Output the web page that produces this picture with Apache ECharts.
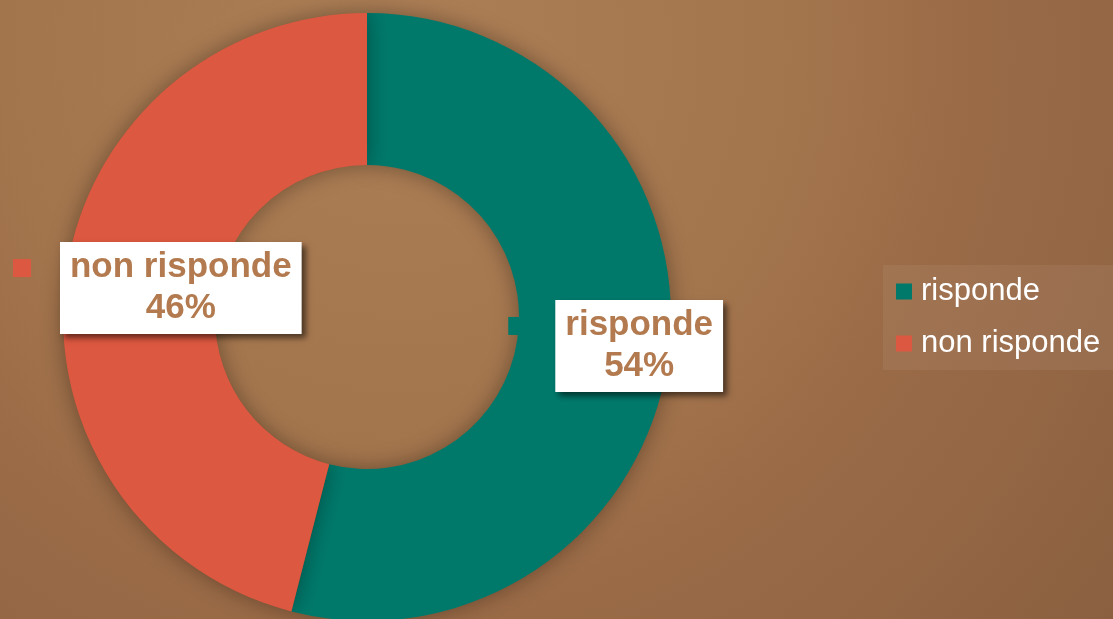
<!DOCTYPE html>
<html>
<head>
<meta charset="utf-8">
<style>
  html, body { margin: 0; padding: 0; }
  #chart { width: 1113px; height: 619px; }
</style>
<script src="https://cdn.jsdelivr.net/npm/echarts@6/dist/echarts.min.js"></script>
</head>
<body>
<div id="chart"></div>
<script>
// Survey answers: share of people who answered vs. did not answer
const categories = ['risponde', 'non risponde'];
const values = [54, 46];

const palette = ['#00796B', '#DC5840'];
const labelFont = '"Liberation Sans", Arial, sans-serif';
const labelSize = 35;
const labelPadX = 10;

// width of a data label box, used to place its colour key just left of it
function boxWidth(lines) {
  const ctx = document.createElement('canvas').getContext('2d');
  ctx.font = 'bold ' + labelSize + 'px ' + labelFont;
  let w = 0;
  lines.forEach(function (t) { w = Math.max(w, ctx.measureText(t).width); });
  return w + labelPadX * 2;
}

const total = values.reduce(function (a, b) { return a + b; }, 0);
const boxShift = 43;

const mainData = categories.map(function (name, i) {
  return { name: name, value: values[i] };
});

const keyData = categories.map(function (name, i) {
  const pct = Math.round(values[i] / total * 100) + '%';
  const w = boxWidth([name, pct]);
  return {
    name: name,
    value: values[i],
    label: {
      offset: [boxShift - w / 2 - 38, -20],
      rich: { m: { width: 18, height: 18, backgroundColor: palette[i] } }
    }
  };
});

const chart = echarts.init(document.getElementById('chart'), null, { renderer: 'canvas' });

chart.setOption({
  animation: false,
  backgroundColor: new echarts.graphic.RadialGradient(0.36, 0.08, 1.47, [
    { offset: 0, color: '#ad7f56' },
    { offset: 0.44, color: '#a3754d' },
    { offset: 0.61, color: '#9b6b47' },
    { offset: 0.77, color: '#956745' },
    { offset: 1, color: '#8a6040' }
  ]),
  color: palette,
  legend: {
    orient: 'vertical',
    left: 883,
    top: 265,
    padding: [11, 20, 11, 13],
    backgroundColor: 'rgba(255,255,255,0.06)',
    itemWidth: 16,
    itemHeight: 16,
    itemGap: 21,
    icon: 'rect',
    data: categories,
    textStyle: {
      color: '#ffffff',
      fontFamily: labelFont,
      fontSize: 31,
      lineHeight: 30,
      padding: [0, 0, 0, 4]
    }
  },
  series: [
    {
      type: 'pie',
      center: [367, 317],
      radius: [152, 304],
      startAngle: 90,
      clockwise: true,
      silent: true,
      itemStyle: {
        shadowBlur: 22,
        shadowColor: 'rgba(0,0,0,0.35)'
      },
      labelLine: { show: false },
      label: {
        show: true,
        position: 'inside',
        offset: [boxShift, 0],
        formatter: '{b}\n{d}%',
        color: '#B27A4E',
        fontFamily: labelFont,
        fontWeight: 'bold',
        fontSize: labelSize,
        lineHeight: 41,
        align: 'center',
        backgroundColor: '#ffffff',
        padding: [5, labelPadX],
        shadowColor: 'rgba(0,0,0,0.55)',
        shadowBlur: 6,
        shadowOffsetX: 4,
        shadowOffsetY: 4
      },
      data: mainData,
      z: 2
    },
    {
      // colour keys that sit beside each data label
      type: 'pie',
      center: [367, 317],
      radius: [152, 304],
      startAngle: 90,
      clockwise: true,
      silent: true,
      legendHoverLink: false,
      itemStyle: { color: 'rgba(0,0,0,0)' },
      emphasis: { disabled: true },
      labelLine: { show: false },
      label: {
        show: true,
        position: 'inside',
        formatter: '{m|}'
      },
      data: keyData,
      z: 3
    }
  ]
});
</script>
</body>
</html>
